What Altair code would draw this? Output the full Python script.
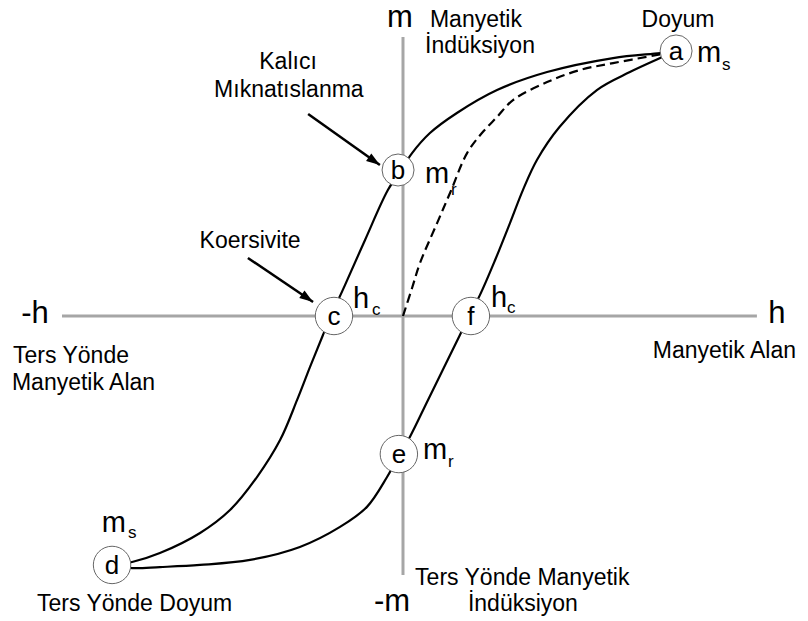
import altair as alt
import pandas as pd

# ---- curve data (h = magnetic field, m = magnetisation) ----
desc_h = [0.993, 0.935, 0.764, 0.524, 0.342, 0.196, 0.098, 0.033, -0.007, -0.055, -0.138, -0.211,
          -0.262, -0.291, -0.338, -0.385, -0.447, -0.531, -0.629, -0.738, -0.884, -0.985, -1.058]
desc_m = [1.004, 0.996, 0.977, 0.924, 0.856, 0.769, 0.693, 0.617, 0.553, 0.477, 0.288, 0.117,
          0.0, -0.072, -0.193, -0.318, -0.470, -0.610, -0.735, -0.822, -0.898, -0.932, -0.943]
asc_h = [-1.058, -0.985, -0.884, -0.738, -0.556, -0.375, -0.229, -0.131, -0.058, -0.018, 0.025, 0.091,
         0.207, 0.240, 0.280, 0.335, 0.389, 0.436, 0.487, 0.569, 0.705, 0.825, 0.935, 0.993]
asc_m = [-0.943, -0.955, -0.951, -0.943, -0.924, -0.875, -0.799, -0.723, -0.610, -0.534, -0.458, -0.318,
         -0.072, 0.0, 0.080, 0.212, 0.352, 0.477, 0.591, 0.716, 0.856, 0.924, 0.977, 1.004]
virgin_h = [0.0, 0.033, 0.062, 0.124, 0.171, 0.233, 0.287, 0.342, 0.400, 0.524, 0.644, 0.764, 0.924, 0.993]
virgin_m = [0.0, 0.106, 0.201, 0.352, 0.466, 0.617, 0.693, 0.754, 0.818, 0.886, 0.932, 0.958, 0.989, 1.004]

# axes extents
axis_h1 = [-1.240, 0.0]
axis_h2 = [1.287, 0.0]
axis_m1 = [0.0, 1.057]
axis_m2 = [0.0, -0.981]

# key points
pt_names = ["a", "b", "c", "d", "e", "f"]
pt_h = [0.993, -0.018, -0.251, -1.058, -0.015, 0.247]
pt_m = [1.004, 0.553, 0.0, -0.943, -0.523, 0.0]
small_pts = ["a", "b"]

# arrows (tail -> tip)
arr_h1 = [-0.345, -0.564]
arr_m1 = [0.765, 0.220]
arr_h2 = [-0.084, -0.327]
arr_m2 = [0.572, 0.053]

# big axis letters
big_text = ["m", "-h", "h", "-m"]
big_h = [-0.011, -1.338, 1.360, -0.040]
big_m = [1.095, -0.027, -0.027, -1.117]

# symbol labels with subscripts
sym_main = ["m", "m", "h", "h", "m", "m"]
sym_h = [1.069, 0.080, -0.182, 0.320, 0.073, -1.095]
sym_m = [0.962, 0.504, 0.030, 0.034, -0.542, -0.818]
sub_text = ["s", "r", "c", "c", "r", "s"]
sub_h = [1.160, 0.175, -0.113, 0.378, 0.164, -1.0]
sub_m = [0.932, 0.458, 0.004, 0.011, -0.572, -0.841]

# descriptive labels
left_text = ["Manyetik", "İndüksiyon", "Ters Yönde", "Manyetik Alan", "Ters Yönde Manyetik", "Ters Yönde Doyum"]
left_h = [0.098, 0.080, -1.418, -1.422, 0.044, -1.331]
left_m = [1.095, 0.996, -0.178, -0.280, -1.019, -1.117]
center_text = ["Doyum", "Kalıcı", "Mıknatıslanma", "Koersivite", "İndüksiyon"]
center_h = [1.0, -0.418, -0.415, -0.556, 0.436]
center_m = [1.095, 0.936, 0.830, 0.258, -1.117]
right_text = ["Manyetik Alan"]
right_h = [1.429]
right_m = [-0.159]

FONT = "Liberation Sans"
xs = alt.Scale(domain=[-1.43636, 1.44364], nice=False, zero=False)
ys = alt.Scale(domain=[-1.10606, 1.16667], nice=False, zero=False)
X = lambda f: alt.X(f, type="quantitative", scale=xs, axis=None)
Y = lambda f: alt.Y(f, type="quantitative", scale=ys, axis=None)

axes_df = pd.DataFrame({"x1": [axis_h1[0], axis_m1[0]], "y1": [axis_h1[1], axis_m1[1]],
                        "x2": [axis_h2[0], axis_m2[0]], "y2": [axis_h2[1], axis_m2[1]]})
axes = alt.Chart(axes_df).mark_rule(color="#a6a6a6", strokeWidth=3).encode(
    x=X("x1"), y=Y("y1"), x2="x2", y2="y2")

loop_df = pd.concat([
    pd.DataFrame({"h": desc_h, "m": desc_m, "branch": "desc", "i": range(len(desc_h))}),
    pd.DataFrame({"h": asc_h, "m": asc_m, "branch": "asc", "i": range(len(asc_h))}),
])
loop = alt.Chart(loop_df).mark_line(color="black", strokeWidth=2.2, interpolate="catmull-rom").encode(
    x=X("h"), y=Y("m"), detail="branch:N", order="i:Q")

virgin_df = pd.DataFrame({"h": virgin_h, "m": virgin_m, "i": range(len(virgin_h))})
virgin = alt.Chart(virgin_df).mark_line(color="black", strokeWidth=2.2, strokeDash=[9, 5],
                                        interpolate="catmull-rom").encode(
    x=X("h"), y=Y("m"), order="i:Q")

arr_df = pd.DataFrame({"x1": arr_h1, "y1": arr_m1, "x2": arr_h2, "y2": arr_m2})
arrow_lines = alt.Chart(arr_df).mark_rule(color="black", strokeWidth=2.5).encode(
    x=X("x1"), y=Y("y1"), x2="x2", y2="y2")
arrow_heads = alt.Chart(arr_df).mark_point(shape="M0,0L0.8,2.4L-0.8,2.4Z", filled=True, color="black",
                                          opacity=1, size=130, angle=125).encode(
    x=X("x2"), y=Y("y2"))

pts_df = pd.DataFrame({"name": pt_names, "h": pt_h, "m": pt_m})
is_small = alt.FieldOneOfPredicate(field="name", oneOf=small_pts)
circle_style = dict(shape="circle", filled=True, fill="white", stroke="#666666",
                    strokeWidth=1, opacity=1, fillOpacity=1)
circles_small = alt.Chart(pts_df).transform_filter(is_small).mark_point(size=1024, **circle_style).encode(
    x=X("h"), y=Y("m"))
circles_big = alt.Chart(pts_df).transform_filter(~is_small).mark_point(size=1400, **circle_style).encode(
    x=X("h"), y=Y("m"))
circle_txt = alt.Chart(pts_df).mark_text(font=FONT, fontSize=26, color="black", baseline="middle",
                                         dy=1).encode(
    x=X("h"), y=Y("m"), text="name:N")

big_df = pd.DataFrame({"t": big_text, "h": big_h, "m": big_m})
big = alt.Chart(big_df).mark_text(font=FONT, fontSize=31, color="black", align="center",
                                  baseline="alphabetic").encode(x=X("h"), y=Y("m"), text="t:N")

sym_df = pd.DataFrame({"t": sym_main, "h": sym_h, "m": sym_m})
sym = alt.Chart(sym_df).mark_text(font=FONT, fontSize=29, color="black", align="left",
                                  baseline="alphabetic").encode(x=X("h"), y=Y("m"), text="t:N")
sub_df = pd.DataFrame({"t": sub_text, "h": sub_h, "m": sub_m})
sub = alt.Chart(sub_df).mark_text(font=FONT, fontSize=17, color="black", align="left",
                                  baseline="alphabetic").encode(x=X("h"), y=Y("m"), text="t:N")

def label_layer(texts, hs, ms, align):
    df = pd.DataFrame({"t": texts, "h": hs, "m": ms})
    return alt.Chart(df).mark_text(font=FONT, fontSize=23, color="black", align=align,
                                   baseline="alphabetic").encode(x=X("h"), y=Y("m"), text="t:N")

labels_l = label_layer(left_text, left_h, left_m, "left")
labels_c = label_layer(center_text, center_h, center_m, "center")
labels_r = label_layer(right_text, right_h, right_m, "right")

chart = alt.layer(
    axes, virgin, loop, arrow_lines, arrow_heads, circles_small, circles_big, circle_txt,
    big, sym, sub, labels_l, labels_c, labels_r
).properties(
    width=792, height=600,
    padding={"left": 0, "top": 0, "right": 0, "bottom": 12},
    autosize=alt.AutoSizeParams(type="none"),
    background="white",
).configure_view(stroke=None)

chart.save("out.html", embed_options={"renderer": "svg", "actions": False})
